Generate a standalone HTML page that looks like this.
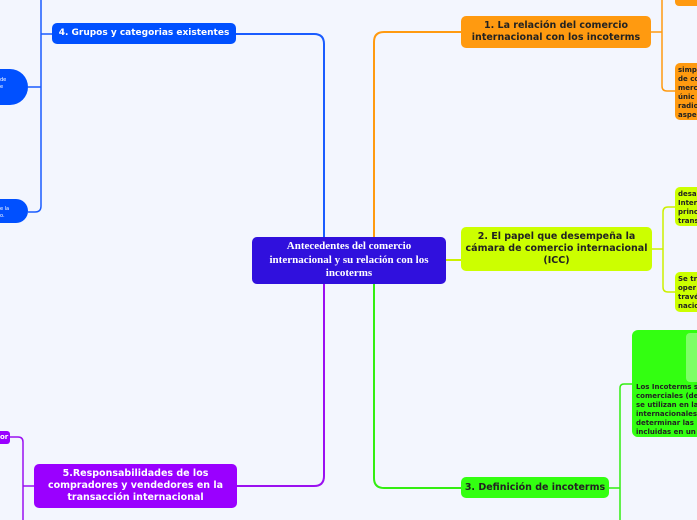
<!DOCTYPE html>
<html><head><meta charset="utf-8"><style>
body{margin:0;width:697px;height:520px;background:#f3f6fe;position:relative;overflow:hidden;font-family:"DejaVu Sans","Liberation Sans",sans-serif}
.n{position:absolute;box-sizing:border-box;border-radius:5px;font-weight:bold;text-align:center;display:flex;align-items:center;justify-content:center;line-height:1.25}
.t{position:absolute;box-sizing:border-box;font-weight:bold;font-size:7px;line-height:1.3;color:#222;overflow:hidden;white-space:nowrap;padding:3px 3px}
</style></head><body>
<svg width="697" height="520" style="position:absolute;left:0;top:0" fill="none">
<path d="M236 34 H314 Q324 34 324 44 V237" stroke="#1a5cff" stroke-width="2"/>
<path d="M41 0 V206 Q41 212 35 212 H28 M41 87 H28 M41 34 H52" stroke="#1a5cff" stroke-width="1.5"/>
<path d="M324 284 V476 Q324 486 314 486 H237" stroke="#9a10f0" stroke-width="2"/>
<path d="M10 437 H18 Q23 437 23 442 V520 M23 486 H34" stroke="#9a10f0" stroke-width="1.5"/>
<path d="M374 237 V42 Q374 32 384 32 H461" stroke="#ff9a10" stroke-width="2"/>
<path d="M651 32 H662 M662 0 V86 Q662 91 667 91 H675" stroke="#ff9a10" stroke-width="1.5"/>
<path d="M446 260 H461" stroke="#ccf000" stroke-width="2"/>
<path d="M652 249 H663 M675 207 H668 Q663 207 663 212 V287 Q663 292 668 292 H675" stroke="#ccf000" stroke-width="1.5"/>
<path d="M374 284 V478 Q374 488 384 488 H461" stroke="#33ee11" stroke-width="2"/>
<path d="M609 488 H620 M632 384 H624 Q620 384 620 388 V520" stroke="#33ee11" stroke-width="1.5"/>
</svg>
<div class="n" style="left:252px;top:237px;width:194px;height:47px;background:#3010dd;color:#fff;font-family:'Liberation Serif',serif;font-size:11px;padding:0 14px">Antecedentes del comercio internacional y su relación con los incoterms</div>
<div class="n" style="left:461px;top:16px;width:190px;height:32px;background:#ff9a10;color:#222;font-size:9.5px">1. La relación del comercio internacional con los incoterms</div>
<div class="n" style="left:461px;top:227px;width:191px;height:44px;background:#ccff00;color:#222;font-size:9.5px">2. El papel que desempeña la cámara de comercio internacional (ICC)</div>
<div class="n" style="left:461px;top:477px;width:148px;height:21px;background:#33ff11;color:#222;font-size:9.5px">3. Definición de incoterms</div>
<div class="n" style="left:52px;top:23px;width:184px;height:21px;background:#0050ff;color:#fff;font-size:9px">4. Grupos y categorias existentes</div>
<div class="n" style="left:34px;top:464px;width:203px;height:44px;background:#9a00ff;color:#fff;font-size:9.5px;padding:0 10px">5.Responsabilidades de los<br>compradores y vendedores en la<br>transacción internacional</div>
<div class="t" style="left:675px;top:-6px;width:30px;height:12px;background:#ff9a10;border-radius:4px;padding:0 3px">dirE</div>
<div class="t" style="left:675px;top:63px;width:30px;height:57px;background:#ff9a10;border-radius:5px">simp<br>de co<br>merc<br>únic<br>radio<br>aspe</div>
<div class="t" style="left:675px;top:187px;width:30px;height:39px;background:#ccff00;border-radius:5px">desa<br>Inter<br>princ<br>trans</div>
<div class="t" style="left:675px;top:272px;width:30px;height:40px;background:#ccff00;border-radius:5px">Se tr<br>oper<br>travé<br>nacio</div>
<div class="t" style="left:632px;top:330px;width:75px;height:107px;background:#33ff11;border-radius:6px;padding:53px 4px 0">Los Incoterms s<br>comerciales (de<br>se utilizan en la<br>internacionales<br>determinar las<br>incluidas en un</div>
<div style="position:absolute;left:686px;top:333px;width:20px;height:49px;background:#7dff66;border-radius:4px"></div>
<div class="t" style="left:-20px;top:69px;width:48px;height:36px;background:#0050ff;border-radius:18px;color:#fff;font-size:5px;font-weight:normal;padding:8px 0 0 20px">de<br>e</div>
<div class="t" style="left:-20px;top:199px;width:48px;height:24px;background:#0050ff;border-radius:12px;color:#fff;font-size:5px;font-weight:normal;padding:7px 0 0 20px">e la<br>o.</div>
<div class="t" style="left:-10px;top:431px;width:20px;height:13px;background:#9a00ff;border-radius:3px;color:#fff;padding:2px 0 0 10px">or</div>
</body></html>
